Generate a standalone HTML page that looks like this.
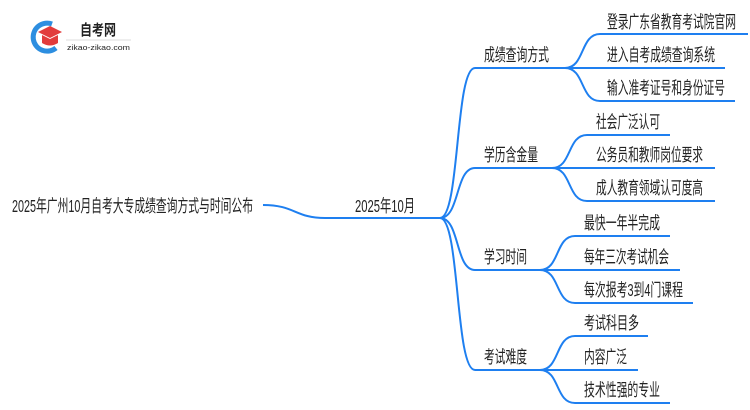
<!DOCTYPE html>
<html><head><meta charset="utf-8"><style>
html,body{margin:0;padding:0;background:#fff;width:750px;height:410px;overflow:hidden}
svg text{font-family:"Liberation Sans","Noto Sans CJK SC",sans-serif;fill:#222;font-size:17.5px}
</style></head><body>
<svg width="750" height="410" viewBox="0 0 750 410" xmlns="http://www.w3.org/2000/svg">
<path d="M52 24 A14 14 0 1 0 56 48" fill="none" stroke="#2d8ee0" stroke-width="5"/>
<polygon points="38,32 50,26 62,32 50,38" fill="#e23b3b"/>
<path d="M42 35 L42 43 Q50 48 58 43 L58 35 L50 39 Z" fill="#e23b3b"/>
<text x="80" y="35" style="font-size:15px;font-weight:bold" fill="#333" textLength="36" lengthAdjust="spacingAndGlyphs">自考网</text>
<line x1="66" y1="40" x2="131" y2="40" stroke="#ddd" stroke-width="1"/>
<text x="67" y="50" style="font-size:7.5px" fill="#777" textLength="63" lengthAdjust="spacingAndGlyphs">zikao-zikao.com</text>
<g fill="none" stroke="#1e7ff0" stroke-width="2">
<path d="M263 205 C295 205 295 218 325 218 L440 218"/>
<path d="M440 218 C460 218 455 68 475 68 L565 68"/>
<path d="M440 218 C460 218 455 168 475 168 L552 168"/>
<path d="M440 218 C460 218 455 270 475 270 L540 270"/>
<path d="M440 218 C460 218 455 370 475 370 L540 370"/>
<path d="M565 68 C585 68 580 34 600 34 L748 34"/>
<path d="M565 68 L725 68"/>
<path d="M565 68 C585 68 580 101 600 101 L735 101"/>
<path d="M552 168 C572 168 567 135 587 135 L670 135"/>
<path d="M552 168 L715 168"/>
<path d="M552 168 C572 168 567 201 587 201 L715 201"/>
<path d="M540 270 C560 270 555 236 575 236 L670 236"/>
<path d="M540 270 L680 270"/>
<path d="M540 270 C560 270 555 303 575 303 L693 303"/>
<path d="M540 370 C560 370 555 336 575 336 L648 336"/>
<path d="M540 370 L638 370"/>
<path d="M540 370 C560 370 555 403 575 403 L670 403"/>
</g>
<text x="12" y="212" textLength="241" lengthAdjust="spacingAndGlyphs">2025年广州10月自考大专成绩查询方式与时间公布</text>
<text x="355" y="212" textLength="60" lengthAdjust="spacingAndGlyphs">2025年10月</text>
<text x="484" y="61" textLength="65" lengthAdjust="spacingAndGlyphs">成绩查询方式</text>
<text x="484" y="161" textLength="54" lengthAdjust="spacingAndGlyphs">学历含金量</text>
<text x="484" y="263" textLength="43" lengthAdjust="spacingAndGlyphs">学习时间</text>
<text x="484" y="363" textLength="43" lengthAdjust="spacingAndGlyphs">考试难度</text>
<text x="607" y="28" textLength="129" lengthAdjust="spacingAndGlyphs">登录广东省教育考试院官网</text>
<text x="607" y="61" textLength="108" lengthAdjust="spacingAndGlyphs">进入自考成绩查询系统</text>
<text x="607" y="94" textLength="118" lengthAdjust="spacingAndGlyphs">输入准考证号和身份证号</text>
<text x="596" y="128" textLength="64" lengthAdjust="spacingAndGlyphs">社会广泛认可</text>
<text x="596" y="161" textLength="107" lengthAdjust="spacingAndGlyphs">公务员和教师岗位要求</text>
<text x="596" y="194" textLength="107" lengthAdjust="spacingAndGlyphs">成人教育领域认可度高</text>
<text x="584" y="229" textLength="76" lengthAdjust="spacingAndGlyphs">最快一年半完成</text>
<text x="584" y="263" textLength="85" lengthAdjust="spacingAndGlyphs">每年三次考试机会</text>
<text x="584" y="296" textLength="99" lengthAdjust="spacingAndGlyphs">每次报考3到4门课程</text>
<text x="584" y="329" textLength="55" lengthAdjust="spacingAndGlyphs">考试科目多</text>
<text x="584" y="363" textLength="43" lengthAdjust="spacingAndGlyphs">内容广泛</text>
<text x="584" y="396" textLength="76" lengthAdjust="spacingAndGlyphs">技术性强的专业</text>
</svg>
</body></html>
